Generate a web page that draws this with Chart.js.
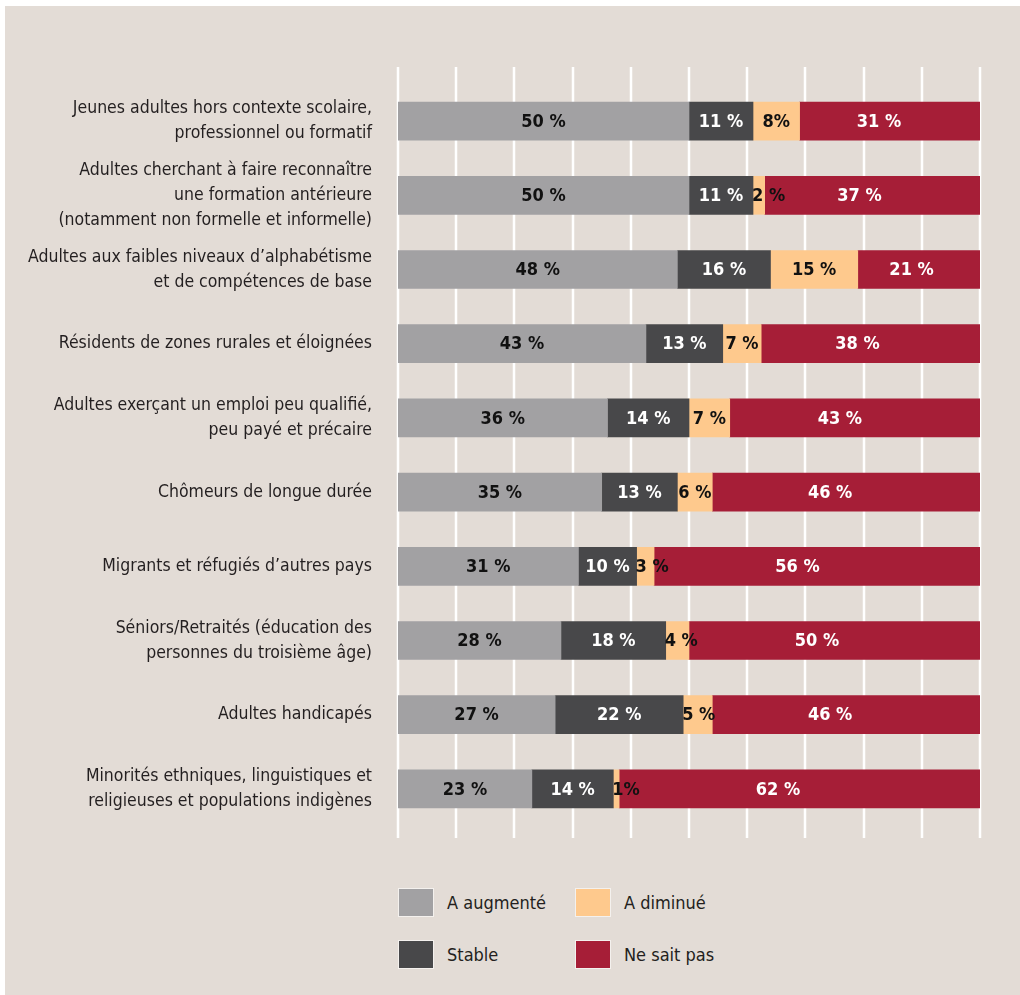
<!DOCTYPE html>
<html lang="fr">
<head>
<meta charset="utf-8">
<title>Participation des groupes</title>
<script src="https://cdn.jsdelivr.net/npm/chart.js@4/dist/chart.umd.min.js"></script>
<style>
  body { margin: 0; background: #fff; width: 1020px; height: 995px; position: relative; overflow: hidden; }
  #fond { position: absolute; left: 5px; top: 6px; right: 0; bottom: 0; background: #e3dcd6; }
  #zone { position: absolute; left: 0; top: 0; width: 1020px; height: 860px; }
  #legende {
    position: absolute; left: 398px; top: 888px;
    display: grid; grid-template-rows: repeat(2, 29px); grid-auto-flow: column;
    grid-template-columns: 177px 200px; row-gap: 23px;
    font-family: 'Liberation Sans Narrow', 'DejaVu Sans Condensed', Roboto, sans-serif;
    font-size: 18px; color: #231f20;
  }
  .item { display: flex; align-items: center; }
  .carre { width: 34px; height: 27px; border: 1px solid #f4f1ee; margin-right: 13px; }
</style>
</head>
<body>
<div id="fond"></div>
<div id="zone"><canvas id="graphique" width="1020" height="860"></canvas></div>
<div id="legende"></div>
<script>
const police = "'Liberation Sans Narrow', 'DejaVu Sans Condensed', Roboto, sans-serif"

const categories = [
  ["Jeunes adultes hors contexte scolaire,", "professionnel ou formatif"],
  ["Adultes cherchant à faire reconnaître", "une formation antérieure", "(notamment non formelle et informelle)"],
  ["Adultes aux faibles niveaux d’alphabétisme", "et de compétences de base"],
  "Résidents de zones rurales et éloignées",
  ["Adultes exerçant un emploi peu qualifié,", "peu payé et précaire"],
  "Chômeurs de longue durée",
  "Migrants et réfugiés d’autres pays",
  ["Séniors/Retraités (éducation des", "personnes du troisième âge)"],
  "Adultes handicapés",
  ["Minorités ethniques, linguistiques et", "religieuses et populations indigènes"]
]

const augmente = [50, 50, 48, 42.6, 36, 35, 31, 28, 27, 23]
const stable = [11, 11, 16, 13.2, 14, 13, 10, 18, 22, 14]
const diminue = [8, 2, 15, 6.6, 7, 6, 3, 4, 5, 1]
const neSaitPas = [31, 37, 21, 37.6, 43, 46, 56, 50, 46, 62]

// étiquettes écrites sans espace dans l'original (série "A diminué")
const sansEspace = [0, 9]

const grille = {
  id: "grille",
  beforeDatasetsDraw(chart) {
    const ctx = chart.ctx
    const x = chart.scales.x
    const zone = chart.chartArea
    ctx.save()
    ctx.strokeStyle = "#ffffff"
    ctx.lineWidth = 2.5
    x.ticks.forEach(t => {
      const px = Math.round(x.getPixelForValue(t.value))
      ctx.beginPath()
      ctx.moveTo(px, zone.top - 17)
      ctx.lineTo(px, zone.bottom + 12)
      ctx.stroke()
    })
    ctx.restore()
  }
}

const etiquettes = {
  id: "etiquettes",
  afterDatasetsDraw(chart) {
    const ctx = chart.ctx
    ctx.save()
    ctx.font = "bold 18px " + police
    ctx.textBaseline = "middle"
    chart.data.datasets.forEach((ds, i) => {
      chart.getDatasetMeta(i).data.forEach((barre, j) => {
        const v = Math.round(ds.data[j])
        const texte = (i === 2 && sansEspace.includes(j)) ? v + "%" : v + " %"
        const gauche = Math.min(barre.x, barre.base)
        const droite = Math.max(barre.x, barre.base)
        const largeur = droite - gauche
        const tw = ctx.measureText(texte).width
        ctx.fillStyle = ds.couleurTexte
        if (tw > largeur) {
          // segment trop étroit : texte calé sur le début du segment
          ctx.textAlign = "left"
          ctx.fillText(texte, gauche - 1, barre.y + 1)
        } else {
          ctx.textAlign = "center"
          ctx.fillText(texte, (gauche + droite) / 2 + ds.decalage * largeur, barre.y + 1)
        }
      })
    })
    ctx.restore()
  }
}

const data = {
  labels: categories,
  datasets: [
    { label: "A augmenté", data: augmente, backgroundColor: "#a2a1a3", couleurTexte: "#111111", decalage: 0 },
    { label: "Stable", data: stable, backgroundColor: "#48484a", couleurTexte: "#ffffff", decalage: 0 },
    { label: "A diminué", data: diminue, backgroundColor: "#fec98d", couleurTexte: "#111111", decalage: 0 },
    { label: "Ne sait pas", data: neSaitPas, backgroundColor: "#a61e37", couleurTexte: "#ffffff", decalage: -0.06 }
  ]
}

const config = {
  type: "bar",
  data: data,
  options: {
    indexAxis: "y",
    responsive: false,
    animation: false,
    barThickness: 38,
    layout: { padding: { top: 84, bottom: 34, left: 0, right: 40 } },
    plugins: {
      legend: { display: false },
      tooltip: { enabled: false }
    },
    scales: {
      x: {
        stacked: true,
        display: false,
        min: 0,
        max: 100,
        ticks: { stepSize: 10 }
      },
      y: {
        stacked: true,
        grid: { display: false, drawTicks: false },
        border: { display: false },
        ticks: {
          autoSkip: false,
          padding: 26,
          color: "#231f20",
          font: { family: police, size: 17.5, lineHeight: 1.43 }
        },
        afterFit(scale) {
          scale.width = 398
          scale.paddingTop = 0
          scale.paddingBottom = 0
        }
      }
    }
  },
  plugins: [grille, etiquettes]
}

const graphique = new Chart(document.querySelector("#graphique"), config)

// Légende HTML en grille 2 x 2
const legende = document.querySelector("#legende")
graphique.data.datasets.forEach(ds => {
  const item = document.createElement("div")
  item.className = "item"
  const carre = document.createElement("span")
  carre.className = "carre"
  carre.style.background = ds.backgroundColor
  const texte = document.createElement("span")
  texte.textContent = ds.label
  item.appendChild(carre)
  item.appendChild(texte)
  legende.appendChild(item)
})
</script>
</body>
</html>
